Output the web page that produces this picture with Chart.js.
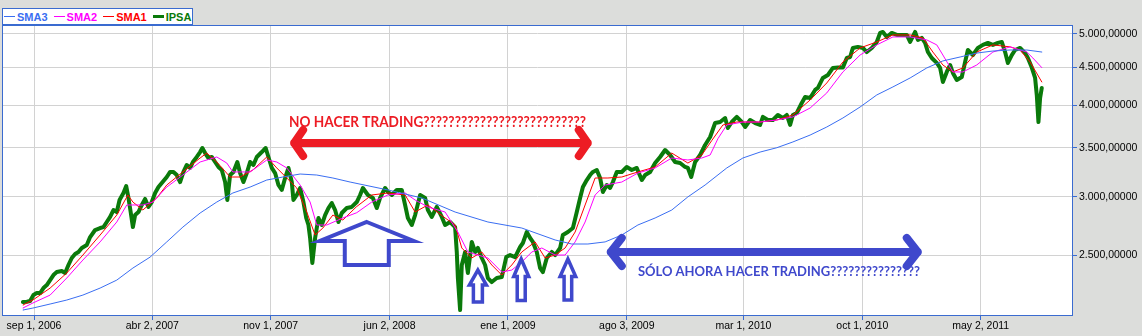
<!DOCTYPE html>
<html lang="es">
<head>
<meta charset="UTF-8">
<title>IPSA</title>
<style>
  html, body { margin: 0; padding: 0; background: #dcdddb; }
  .wrap { position: relative; width: 1142px; height: 336px; }
  #chart { display: block; }
  #legend {
    position: absolute; left: 2px; top: 8px; width: 191px; height: 17px;
    box-sizing: border-box; border: 1px solid #3a6bd0; background: #fff;
    display: flex; align-items: center; padding-left: 1px; overflow: hidden;
    font: bold 11px "Liberation Sans", Arial, sans-serif; white-space: nowrap;
  }
  #legend .it { display: flex; align-items: center; margin-right: 6px; }
  #legend .ln { width: 11px; margin-right: 2px; }
</style>
</head>
<body>
<div class="wrap">
  <canvas id="chart" width="1142" height="336"></canvas>
  <div id="legend"></div>
</div>
<script src="https://cdn.jsdelivr.net/npm/chart.js"></script>
<script>
// x values are calendar days counted from sep 1, 2006
const tickDays = [0, 213, 426, 640, 853, 1067, 1277, 1491, 1704];
const tickLabels = ["sep 1, 2006", "abr 2, 2007", "nov 1, 2007", "jun 2, 2008", "ene 1, 2009",
  "ago 3, 2009", "mar 1, 2010", "oct 1, 2010", "may 2, 2011"];
const yTicks = [2500, 3000, 3500, 4000, 4500, 5000];

const ipsaDays = [
  -20, -13, -7, -1, 5, 11, 17, 23, 29, 35,
  41, 50, 56, 62, 68, 74, 80, 86, 95, 101,
  110, 119, 125, 131, 137, 143, 149, 154, 161, 166,
  170, 174, 178, 182, 188, 194, 200, 206, 212, 218,
  224, 233, 239, 245, 251, 257, 263, 269, 275, 281,
  286, 293, 299, 303, 308, 314, 320, 326, 332, 338,
  344, 348, 353, 359, 366, 371, 377, 383, 389, 395,
  401, 410, 417, 422, 428, 434, 440, 446, 452, 458,
  464, 467, 473, 479, 485, 490, 494, 497, 501, 506,
  512, 518, 524, 530, 536, 542, 548, 554, 563, 572,
  581, 587, 592, 601, 610, 617, 623, 632, 637, 644,
  653, 662, 668, 673, 680, 686, 695, 704, 709, 716,
  725, 734, 740, 749, 758, 761, 763, 767, 770, 776,
  781, 788, 794, 799, 806, 812, 817, 824, 833, 842,
  850, 857, 866, 875, 880, 887, 893, 898, 905, 911,
  916, 923, 932, 938, 947, 952, 961, 970, 977, 983,
  988, 995, 1001, 1006, 1013, 1019, 1024, 1031, 1037, 1042,
  1049, 1058, 1067, 1076, 1085, 1094, 1100, 1109, 1118, 1127,
  1136, 1145, 1154, 1163, 1172, 1177, 1183, 1190, 1199, 1208,
  1217, 1226, 1235, 1244, 1249, 1256, 1265, 1274, 1280, 1289,
  1298, 1307, 1312, 1321, 1330, 1339, 1348, 1355, 1361, 1366,
  1373, 1382, 1388, 1397, 1406, 1411, 1420, 1429, 1438, 1447,
  1456, 1463, 1469, 1474, 1483, 1492, 1499, 1508, 1517, 1523,
  1528, 1535, 1544, 1553, 1562, 1571, 1577, 1586, 1591, 1598,
  1604, 1609, 1616, 1625, 1631, 1636, 1643, 1649, 1654, 1661,
  1670, 1676, 1681, 1690, 1699, 1708, 1717, 1726, 1735, 1742,
  1748, 1753, 1760, 1766, 1775, 1784, 1789, 1796, 1802, 1805,
  1808, 1811, 1814
];
const ipsa = [
  2157, 2160, 2164, 2205, 2219, 2219, 2254, 2275, 2311, 2348,
  2370, 2378, 2363, 2423, 2477, 2508, 2524, 2556, 2580, 2645,
  2704, 2721, 2729, 2773, 2817, 2879, 2861, 2971, 3037, 3104,
  2990, 2861, 2729, 2834, 2861, 2925, 2981, 2907, 2952, 3037,
  3094, 3153, 3193, 3244, 3244, 3213, 3143, 3244, 3316, 3285,
  3347, 3400, 3453, 3497, 3442, 3389, 3400, 3347, 3295, 3264,
  3143, 2971, 3213, 3244, 3347, 3233, 3143, 3233, 3347, 3316,
  3400, 3453, 3497, 3400, 3285, 3233, 3114, 3066, 3183, 3285,
  3143, 2971, 3018, 3085, 2952, 2808, 2747, 2637, 2438, 2637,
  2808, 2747, 2834, 2897, 2943, 2879, 2773, 2852, 2897, 2907,
  2952, 3018, 3085, 3018, 2990, 2897, 2990, 3085, 3047, 3018,
  3066, 3066, 2925, 2808, 2747, 2834, 3018, 2990, 2879, 2817,
  2907, 2817, 2747, 2773, 2729, 2524, 2326, 2104, 2423, 2524,
  2363, 2605, 2524, 2556, 2477, 2423, 2326, 2297, 2326, 2333,
  2484, 2500, 2484, 2564, 2596, 2687, 2637, 2605, 2524, 2400,
  2370, 2477, 2524, 2500, 2556, 2662, 2687, 2721, 2861, 2990,
  3094, 3163, 3213, 3244, 3264, 3183, 3047, 3114, 3085, 3143,
  3244, 3244, 3295, 3264, 3285, 3163, 3213, 3244, 3336, 3400,
  3475, 3421, 3347, 3336, 3295, 3285, 3193, 3347, 3421, 3530,
  3620, 3782, 3794, 3842, 3723, 3794, 3855, 3794, 3735, 3818,
  3782, 3759, 3855, 3818, 3818, 3879, 3842, 3879, 3759, 3879,
  3903, 4027, 4104, 4091, 4195, 4222, 4356, 4397, 4495, 4500,
  4500, 4637, 4652, 4786, 4802, 4786, 4725, 4786, 4877, 5017,
  5032, 4954, 5017, 4985, 4985, 4985, 4877, 5032, 4908, 4939,
  4862, 4725, 4637, 4566, 4495, 4302, 4439, 4537, 4425, 4329,
  4370, 4580, 4755, 4681, 4786, 4832, 4862, 4832, 4862, 4877,
  4725, 4566, 4681, 4755, 4786, 4710, 4637, 4500, 4356, 4130,
  3794, 4091, 4222
];

const sma1Days = [
  -20, -2, 29, 59, 88, 119, 149, 169, 178, 196,
  221, 239, 268, 299, 311, 329, 353, 371, 394, 419,
  437, 455, 473, 491, 506, 520, 538, 556, 580, 608,
  637, 668, 686, 709, 740, 758, 770, 788, 806, 824,
  842, 860, 878, 902, 920, 938, 956, 974, 992, 1010,
  1033, 1058, 1087, 1118, 1148, 1177, 1202, 1220, 1240, 1265,
  1307, 1337, 1366, 1397, 1427, 1456, 1487, 1517, 1546, 1577,
  1600, 1618, 1636, 1654, 1672, 1697, 1726, 1757, 1775, 1793,
  1814
];
const sma1 = [
  2137, 2171, 2254, 2363, 2500, 2662, 2834, 3018, 2952, 2879,
  2990, 3114, 3244, 3389, 3442, 3347, 3193, 3193, 3264, 3400,
  3285, 3183, 3085, 2861, 2662, 2721, 2834, 2790, 2907, 3018,
  3037, 3018, 2861, 2925, 2808, 2747, 2556, 2477, 2524, 2423,
  2348, 2423, 2524, 2605, 2477, 2500, 2556, 2687, 2925, 3183,
  3183, 3193, 3244, 3295, 3442, 3336, 3421, 3580, 3759, 3794,
  3794, 3818, 3879, 4065, 4288, 4580, 4786, 4877, 4985, 4985,
  4939, 4725, 4537, 4439, 4495, 4725, 4832, 4802, 4755, 4580,
  4302
];

const sma2Days = [
  -20, -2, 29, 59, 88, 119, 149, 167, 196, 214,
  239, 268, 299, 329, 347, 358, 389, 419, 437, 455,
  479, 497, 509, 527, 556, 581, 608, 637, 668, 686,
  709, 740, 763, 781, 799, 817, 842, 860, 878, 896,
  914, 938, 956, 974, 992, 1010, 1028, 1058, 1087, 1118,
  1148, 1177, 1202, 1217, 1231, 1247, 1276, 1307, 1337, 1366,
  1397, 1427, 1456, 1487, 1517, 1546, 1577, 1607, 1625, 1636,
  1654, 1672, 1697, 1726, 1757, 1787, 1798, 1814
];
const sma2 = [
  2117, 2151, 2205, 2326, 2461, 2605, 2773, 2925, 2925, 2952,
  3094, 3213, 3347, 3400, 3336, 3244, 3244, 3368, 3347, 3285,
  3114, 2952, 2747, 2747, 2808, 2855, 2952, 3018, 3037, 2971,
  2907, 2861, 2687, 2524, 2500, 2477, 2370, 2385, 2446, 2524,
  2556, 2500, 2500, 2605, 2773, 3018, 3114, 3143, 3233, 3285,
  3389, 3368, 3389, 3421, 3600, 3759, 3794, 3794, 3818, 3855,
  3964, 4156, 4439, 4681, 4832, 4954, 4954, 4908, 4832, 4681,
  4439, 4439, 4537, 4725, 4802, 4725, 4637, 4500
];

const sma3Days = [
  -20, -2, 29, 59, 88, 119, 149, 178, 209, 239,
  268, 299, 329, 358, 389, 419, 448, 479, 509, 538,
  569, 637, 698, 758, 817, 878, 938, 968, 997, 1028,
  1058, 1087, 1118, 1148, 1177, 1208, 1247, 1276, 1307, 1337,
  1366, 1397, 1427, 1456, 1487, 1517, 1546, 1577, 1607, 1636,
  1667, 1697, 1726, 1757, 1787, 1814
];
const sma3 = [
  2104, 2117, 2144, 2171, 2205, 2254, 2311, 2400, 2484, 2605,
  2729, 2852, 2952, 3037, 3094, 3163, 3193, 3223, 3213, 3183,
  3143, 3066, 2990, 2861, 2773, 2721, 2621, 2588, 2588, 2605,
  2662, 2747, 2808, 2879, 3000, 3114, 3285, 3389, 3453, 3500,
  3564, 3642, 3735, 3842, 3977, 4130, 4235, 4356, 4495, 4595,
  4652, 4710, 4740, 4755, 4755, 4725
];

const pts = (xs, ys) => xs.map((x, i) => ({ x: x, y: ys[i] }));

const BORDER = "#3a6bd0";
const ANNOT_BLUE = "#3f48cc";
const ANNOT_RED = "#ed1c24";

// annotations, anchored in data units (day, index value)
const notes = {
  redArrow: { from: 461, to: 1004, at: 3552, dx: 9, dy: 13 },
  redText: { day: 459, at: 3735, width: 297, size: 15,
    text: "NO HACER TRADING" + "?".repeat(26) },
  blueArrow: { from: 1031, to: 1598, at: 2524, dx: 11, dy: 14 },
  blueText: { day: 1087, at: 2341, width: 282, size: 14,
    text: "S\u00d3LO AHORA HACER TRADING" + "?".repeat(15) },
  upArrows: [
    { day: 599, at: 2773, hw: 47, hh: 19, sw: 22, h: 43, lw: 4 },
    { day: 799, at: 2385, hw: 8.5, hh: 15, sw: 4.5, h: 32, lw: 3.5 },
    { day: 877, at: 2469, hw: 7.5, hh: 17.5, sw: 4, h: 41.5, lw: 3.5 },
    { day: 961, at: 2469, hw: 7.8, hh: 17.5, sw: 3.8, h: 41, lw: 3.5 }
  ]
};

function doubleArrow(ctx, x1, x2, y, color, dx, dy) {
  const a = x1 + 4, b = x2 - 4;
  ctx.save();
  ctx.strokeStyle = color;
  ctx.lineWidth = 8;
  ctx.lineCap = "round";
  ctx.lineJoin = "round";
  ctx.beginPath();
  ctx.moveTo(a + dx, y - dy); ctx.lineTo(a, y); ctx.lineTo(a + dx, y + dy);
  ctx.moveTo(a, y); ctx.lineTo(b, y);
  ctx.moveTo(b - dx, y - dy); ctx.lineTo(b, y); ctx.lineTo(b - dx, y + dy);
  ctx.stroke();
  ctx.restore();
}

function upArrow(ctx, x, y, a) {
  ctx.save();
  ctx.beginPath();
  ctx.moveTo(x, y);
  ctx.lineTo(x + a.hw, y + a.hh);
  ctx.lineTo(x + a.sw, y + a.hh);
  ctx.lineTo(x + a.sw, y + a.h);
  ctx.lineTo(x - a.sw, y + a.h);
  ctx.lineTo(x - a.sw, y + a.hh);
  ctx.lineTo(x - a.hw, y + a.hh);
  ctx.closePath();
  ctx.fillStyle = "#fff";
  ctx.fill();
  ctx.lineWidth = a.lw;
  ctx.strokeStyle = ANNOT_BLUE;
  ctx.stroke();
  ctx.restore();
}

function note(ctx, t, x, y, color) {
  ctx.save();
  ctx.font = "bold " + t.size + "px Lato, 'Open Sans', sans-serif";
  const w = ctx.measureText(t.text).width;
  ctx.translate(x, y);
  ctx.scale(t.width / w, 1);
  ctx.fillStyle = color;
  ctx.textBaseline = "alphabetic";
  ctx.fillText(t.text, 0, 0);
  ctx.restore();
}

const framePlugin = {
  id: "frame",
  beforeDraw(chart) {
    const { ctx, chartArea: a } = chart;
    ctx.save();
    ctx.fillStyle = "#dcdddb";
    ctx.fillRect(0, 0, chart.width, chart.height);
    ctx.fillStyle = "#fff";
    ctx.fillRect(a.left, a.top, a.right - a.left, a.bottom - a.top);
    ctx.restore();
  },
  afterDatasetsDraw(chart) {
    const ctx = chart.ctx, xs = chart.scales.x, ys = chart.scales.y;
    const X = d => xs.getPixelForValue(d), Y = v => ys.getPixelForValue(v);
    const r = notes.redArrow, b = notes.blueArrow;
    note(ctx, notes.redText, X(notes.redText.day), Y(notes.redText.at), ANNOT_RED);
    doubleArrow(ctx, X(r.from), X(r.to), Y(r.at), ANNOT_RED, r.dx, r.dy);
    note(ctx, notes.blueText, X(notes.blueText.day), Y(notes.blueText.at), ANNOT_BLUE);
    doubleArrow(ctx, X(b.from), X(b.to), Y(b.at), ANNOT_BLUE, b.dx, b.dy);
    notes.upArrows.forEach(u => upArrow(ctx, X(u.day), Y(u.at), u));
  },
  afterDraw(chart) {
    const { ctx, chartArea: a } = chart;
    ctx.save();
    ctx.strokeStyle = BORDER;
    ctx.lineWidth = 1;
    ctx.strokeRect(Math.round(a.left) + 0.5, Math.round(a.top) + 0.5,
      Math.round(a.right - a.left) - 1, Math.round(a.bottom - a.top) - 1);
    ctx.restore();
  }
};

const tickFont = { family: "'Liberation Sans', Arial, sans-serif", size: 10.5 };
const fmt = v => Math.floor(v / 1000) + "." + String(v % 1000).padStart(3, "0") + ",00000";

const series = [
  { label: "SMA3", xs: sma3Days, ys: sma3, color: "#3a6ef2", width: 1 },
  { label: "SMA2", xs: sma2Days, ys: sma2, color: "#ff00ff", width: 1 },
  { label: "SMA1", xs: sma1Days, ys: sma1, color: "#ff0000", width: 1 },
  { label: "IPSA", xs: ipsaDays, ys: ipsa, color: "#0a7a0a", width: 4 }
];

new Chart(document.getElementById("chart").getContext("2d"), {
  type: "line",
  data: {
    datasets: series.map(s => ({
      label: s.label,
      data: pts(s.xs, s.ys),
      borderColor: s.color,
      borderWidth: s.width,
      borderJoinStyle: "round",
      borderCapStyle: "round",
      pointRadius: 0,
      tension: 0,
      fill: false
    }))
  },
  options: {
    responsive: false,
    animation: false,
    devicePixelRatio: 1,
    layout: { padding: { left: 2, top: 25, right: 0, bottom: 0 } },
    plugins: { legend: { display: false }, tooltip: { enabled: false } },
    scales: {
      x: {
        type: "linear",
        min: -57.6,
        max: 1870.2,
        afterBuildTicks: s => { s.ticks = tickDays.map(v => ({ value: v })); },
        afterFit: s => { s.height = 20; },
        ticks: {
          autoSkip: false, maxRotation: 0, padding: 0, color: "#000", font: tickFont,
          callback: v => tickLabels[tickDays.indexOf(v)]
        },
        grid: { color: "#d2d2d2", tickColor: BORDER, tickLength: 4 },
        border: { display: false }
      },
      y: {
        type: "logarithmic",
        position: "right",
        min: 2065,
        max: 5143,
        afterBuildTicks: s => { s.ticks = yTicks.map(v => ({ value: v })); },
        afterFit: s => { s.width = 69; },
        ticks: { padding: 2, color: "#000", font: tickFont, callback: v => fmt(v) },
        grid: { color: "#d2d2d2", tickColor: BORDER, tickLength: 4 },
        border: { display: false }
      }
    }
  },
  plugins: [framePlugin]
});

// legend box (top left), same order as the reference
const legend = document.getElementById("legend");
series.forEach(s => {
  const it = document.createElement("span");
  it.className = "it";
  const ln = document.createElement("span");
  ln.className = "ln";
  ln.style.height = (s.width > 1 ? 3 : 1) + "px";
  ln.style.background = s.color;
  const tx = document.createElement("span");
  tx.textContent = s.label;
  tx.style.color = s.color;
  it.appendChild(ln);
  it.appendChild(tx);
  legend.appendChild(it);
});
</script>
</body>
</html>
